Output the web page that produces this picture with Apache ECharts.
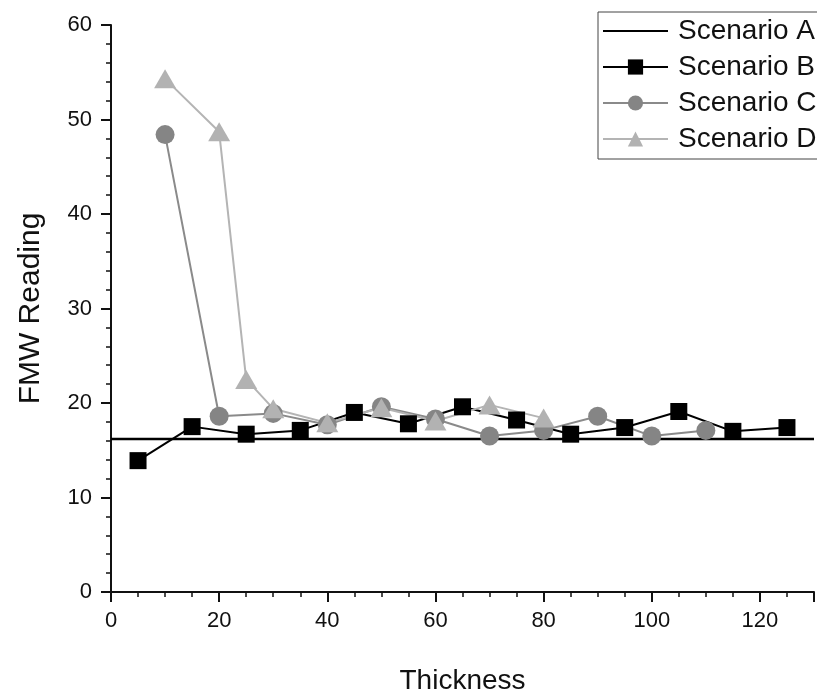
<!DOCTYPE html>
<html>
<head>
<meta charset="UTF-8">
<title>FMW Reading vs Thickness</title>
<script type="text/javascript" src="https://cdn.jsdelivr.net/npm/echarts@6/dist/echarts.min.js"></script>
</head>
<body style="margin:0;background:#fff;">
    <div id="main" style="width: 817px;height:695px;"></div>
    <script type="text/javascript">
    // chart values
    var names = ['Scenario A', 'Scenario B', 'Scenario C', 'Scenario D'];
    var baselineX = [0, 130];
    var baselineY = [16.2, 16.2];
    var thickB = [5, 15, 25, 35, 45, 55, 65, 75, 85, 95, 105, 115, 125];
    var readB = [13.9, 17.5, 16.7, 17.1, 19.0, 17.8, 19.6, 18.2, 16.7, 17.4, 19.1, 17.0, 17.4];
    var thickC = [10, 20, 30, 40, 50, 60, 70, 80, 90, 100, 110];
    var readC = [48.4, 18.6, 18.9, 17.7, 19.6, 18.3, 16.5, 17.1, 18.6, 16.5, 17.1];
    var thickD = [10, 20, 25, 30, 40, 50, 60, 70, 80];
    var readD = [54.3, 48.7, 22.5, 19.4, 17.9, 19.5, 18.1, 19.8, 18.4];

    function pairs(xs, ys) {
        return xs.map(function (x, i) { return [x, ys[i]]; });
    }

    var font = 'Liberation Sans, Arial, sans-serif';
    var myChart = echarts.init(document.getElementById('main'));
    var option = {
        backgroundColor: '#fff',
        animation: false,
        grid: { left: 111, right: 3, top: 25, bottom: 103, outerBoundsMode: 'none', containLabel: false },
        legend: {
            orient: 'vertical',
            left: 598,
            top: 12,
            borderColor: '#444',
            borderWidth: 1,
            padding: [5, 10, 6, 4],
            itemGap: 8,
            itemWidth: 65,
            itemHeight: 19,
            textStyle: { fontFamily: font, fontSize: 28, color: '#111', padding: [0, 0, 0, 5] },
            data: [
                { name: names[0], itemStyle: { opacity: 0 } },
                names[1], names[2], names[3]
            ]
        },
        xAxis: {
            type: 'value',
            min: 0, max: 130, interval: 20,
            name: 'Thickness',
            nameLocation: 'middle',
            nameGap: 75,
            nameTextStyle: { fontFamily: font, fontSize: 28, color: '#111' },
            axisLine: { onZero: false, lineStyle: { color: '#111', width: 2 } },
            axisTick: { inside: false, length: 10, lineStyle: { color: '#111', width: 2 } },
            minorTick: { show: true, splitNumber: 4, length: 5, lineStyle: { color: '#111', width: 1.5 } },
            axisLabel: { fontFamily: font, fontSize: 22, color: '#111', margin: 18, showMaxLabel: false },
            splitLine: { show: false }
        },
        yAxis: {
            type: 'value',
            min: 0, max: 60, interval: 10,
            name: 'FMW Reading',
            nameLocation: 'middle',
            nameGap: 65,
            nameTextStyle: { fontFamily: font, fontSize: 30, color: '#111' },
            axisLine: { show: true, onZero: false, lineStyle: { color: '#111', width: 2 } },
            axisTick: { show: true, inside: false, length: 10, lineStyle: { color: '#111', width: 2 } },
            minorTick: { show: true, splitNumber: 5, length: 5, lineStyle: { color: '#111', width: 1.5 } },
            axisLabel: { fontFamily: font, fontSize: 22, color: '#111', margin: 19 },
            splitLine: { show: false }
        },
        series: [
            {
                name: names[0], type: 'line',
                data: pairs(baselineX, baselineY),
                symbol: 'none',
                lineStyle: { color: '#000', width: 2.5 },
                itemStyle: { color: '#000' }
            },
            {
                name: names[1], type: 'line',
                data: pairs(thickB, readB),
                symbol: 'rect', symbolSize: 17,
                lineStyle: { color: '#000', width: 2 },
                itemStyle: { color: '#000' }
            },
            {
                name: names[2], type: 'line',
                data: pairs(thickC, readC),
                symbol: 'circle', symbolSize: 19,
                lineStyle: { color: '#8a8a8a', width: 2 },
                itemStyle: { color: '#858585' }
            },
            {
                name: names[3], type: 'line',
                data: pairs(thickD, readD),
                symbol: 'triangle', symbolSize: [22, 19],
                lineStyle: { color: '#b4b4b4', width: 2 },
                itemStyle: { color: '#b2b2b2' }
            }
        ]
    };
    myChart.setOption(option);
    </script>
</body>
</html>
